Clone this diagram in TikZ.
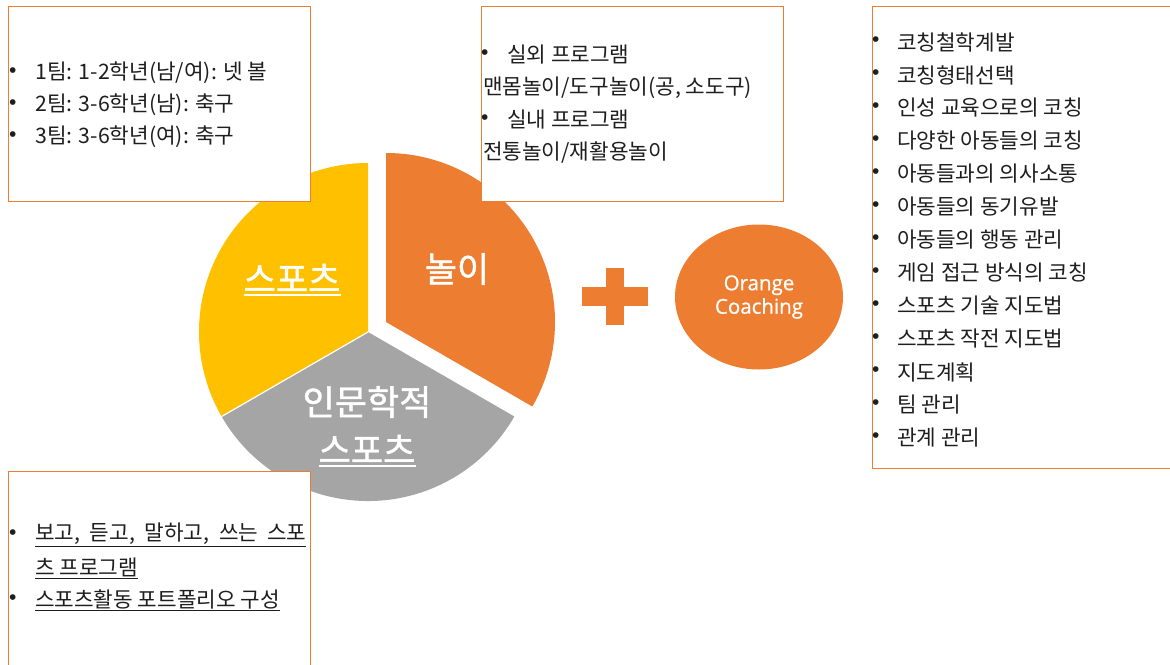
\documentclass[tikz,border=0pt]{standalone}
\usepackage{fontspec}
\usetikzlibrary{shapes.geometric}
\setmainfont{Noto Sans CJK KR}
\newfontfamily\piefont[FakeBold=1.2]{Noto Sans CJK KR}
\newfontfamily\bulletfont{Liberation Sans}
\newfontfamily\latinfont[FakeBold=0.8]{Open Sans}
\definecolor{myorange}{HTML}{ED7D31}
\definecolor{myyellow}{HTML}{FFC000}
\definecolor{mygray}{HTML}{A5A5A5}
\definecolor{txt}{HTML}{1E1E1E}
\begin{document}
\begin{tikzpicture}[x=1pt,y=-1pt,
  boxline/.style={draw=myorange, line width=1pt, fill=white},
  item/.style={anchor=west, inner sep=0pt, text=txt, font=\fontsize{21.3}{24}\selectfont},
  bul/.style={anchor=west, inner sep=0pt, text=txt, font=\bulletfont\fontsize{21}{22}\selectfont},
  pielabel/.style={text=white, inner sep=0pt, font=\piefont\fontsize{35}{48}\selectfont},
  uline/.style={draw=white, line width=2pt}
]
\clip (0,0) rectangle (1170,664);
\fill[white] (0,0) rectangle (1170,664);
% pie
\coordinate (pc) at (368,332);
\fill[myyellow] (pc) -- ++(-90:169) arc[start angle=-90,end angle=-210,radius=169] -- cycle;
\fill[mygray] (pc) -- ++(-210:169) arc[start angle=-210,end angle=-330,radius=169] -- cycle;
\draw[white, line width=1.2pt] (pc) -- ++(-210:169);
\fill[myorange] (386,322) -- ++(-90:169) arc[start angle=-90,end angle=30,radius=169] -- cycle;
% boxes
\draw[boxline] (8,6) rectangle (310,201);
\draw[boxline] (481,6) rectangle (783,201);
\draw[boxline] (872,6) rectangle (1180,468);
\draw[boxline] (8,471) rectangle (310,680);
% pie labels
\node[pielabel] (lsport) at (292,278) {스포츠};
\draw[uline] ([yshift=-3pt]lsport.south west) -- ([yshift=-3pt]lsport.south east);
\node[pielabel] (lplay) at (457,269) {놀이};
\node[pielabel] (lhum1) at (367,402) {인문학적};
\node[pielabel] (lhum2) at (367,449) {스포츠};
\draw[uline] ([yshift=-3pt]lhum2.south west) -- ([yshift=-3pt]lhum2.south east);
% plus
\fill[myorange] (582,287) rectangle (648,306);
\fill[myorange] (606,268) rectangle (624,325);
% ellipse
\node[ellipse, fill=myorange, minimum width=168pt, minimum height=145pt, inner sep=0pt,
  text=white, align=center, font=\latinfont\fontsize{20.5}{23.5}\selectfont] (oc) at (759,297) {Orange\\Coaching};
% top-left box
\node[bul] (b1) at (9,73) {•};
\node[item] (t1) at (35,73) {1팀: 1-2학년(남/여): 넷 볼};
\node[bul] (b2) at (9,105) {•};
\node[item] (t2) at (35,105) {2팀: 3-6학년(남): 축구};
\node[bul] (b3) at (9,137) {•};
\node[item] (t3) at (35,137) {3팀: 3-6학년(여): 축구};
% top-middle box
\node[bul] (m1b) at (481,55) {•};
\node[item] (m1) at (507,55) {실외 프로그램};
\node[item] (m2) at (483,88) {맨몸놀이/도구놀이(공, 소도구)};
\node[bul] (m3b) at (481,120) {•};
\node[item] (m3) at (507,120) {실내 프로그램};
\node[item] (m4) at (483,153) {전통놀이/재활용놀이};
% right box
\foreach \t [count=\i from 0] in {코칭철학계발,코칭형태선택,인성 교육으로의 코칭,다양한 아동들의 코칭,아동들과의 의사소통,아동들의 동기유발,아동들의 행동 관리,게임 접근 방식의 코칭,스포츠 기술 지도법,스포츠 작전 지도법,지도계획,팀 관리,관계 관리}{
  \node[bul] (rb\i) at (872,42+33*\i) {•};
  \node[item] (r\i) at (897,42+33*\i) {\t};
}
% bottom-left box
\node[bul] (l1b) at (9,535) {•};
\node[item] (l1) at (35,535) {\underline{\makebox[271pt][s]{보고, 듣고, 말하고, 쓰는 스포}}};
\node[item] (l2) at (35,568) {\underline{츠 프로그램}};
\node[bul] (l3b) at (9,600) {•};
\node[item] (l3) at (35,600) {\underline{스포츠활동 포트폴리오 구성}};
\end{tikzpicture}
\end{document}
